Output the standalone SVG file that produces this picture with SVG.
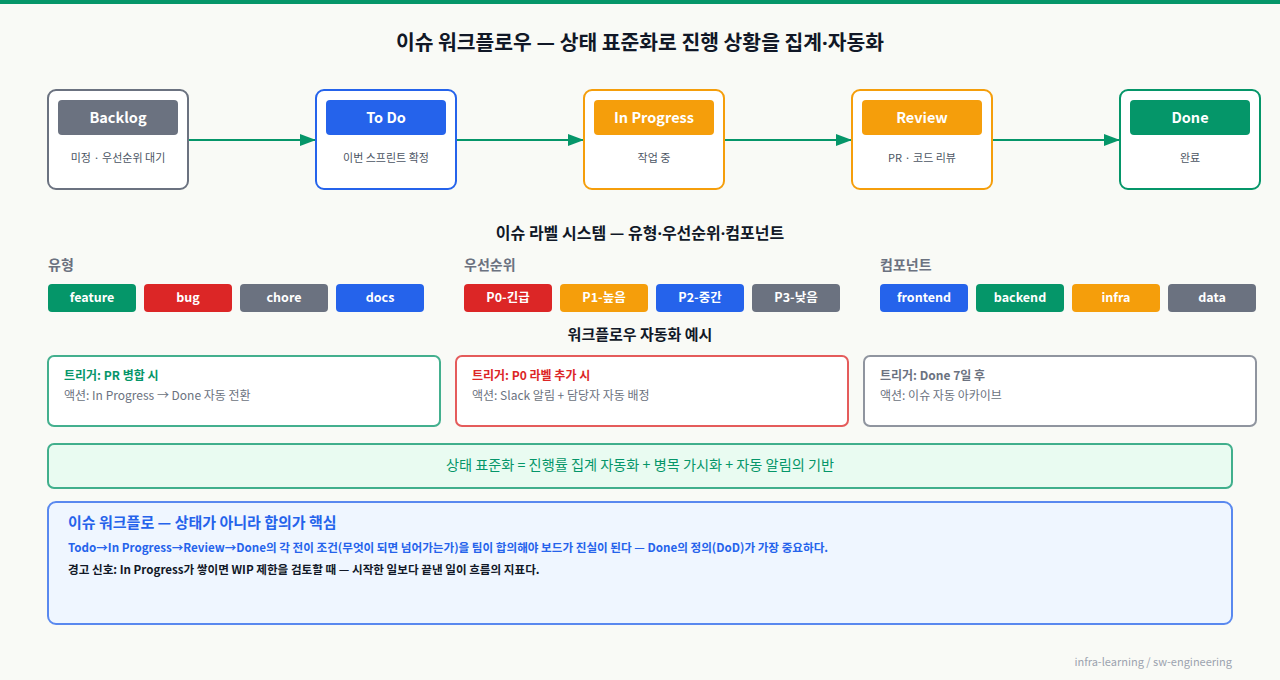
<svg xmlns="http://www.w3.org/2000/svg" width="1280" height="680" viewBox="0 0 1280 680">
<defs>
<marker id="arr" viewBox="0 0 16 12" refX="16" refY="6" markerWidth="16" markerHeight="12" markerUnits="userSpaceOnUse" orient="auto">
<path d="M0,0 L16,6 L0,12 Z" fill="#059669"/>
</marker>
</defs>
<style>
text{font-family:"Noto Sans CJK KR","Noto Sans",sans-serif}
.dot{font-family:"Noto Sans","DejaVu Sans",sans-serif}
.title{font-size:20.4px;font-weight:700;fill:#111827;text-anchor:middle}
.sec{font-size:15px;font-weight:700;fill:#111827;text-anchor:middle}
.sec16{font-size:16px;font-weight:700;fill:#111827;text-anchor:middle}
.box{fill:#ffffff;stroke-width:2}
.pilltxt{font-size:14.5px;font-weight:700;fill:#ffffff;text-anchor:middle}
.sub{font-size:11px;fill:#4b5563;text-anchor:middle}
.grp{font-size:14px;font-weight:700;fill:#6b7280}
.lbl{font-size:12.5px;font-weight:700;fill:#ffffff;text-anchor:middle}
.card{fill:#ffffff;stroke-width:2;stroke-opacity:0.75}
.ct{font-size:12px;font-weight:700}
.ca{font-size:12px;fill:#6b7280}
.conn{stroke:#059669;stroke-width:2;fill:none}
</style>
<rect x="0" y="0" width="1280" height="680" fill="#f9faf6"/>
<rect x="0" y="0" width="1280" height="4" fill="#059669"/>
<text class="title" x="640" y="50">이슈 워크플로우 — 상태 표준화로 진행 상황을 집계<tspan class="dot">·</tspan>자동화</text>

<g id="connectors">
<line class="conn" x1="189" y1="140" x2="316" y2="140" marker-end="url(#arr)"/>
<line class="conn" x1="457" y1="140" x2="584" y2="140" marker-end="url(#arr)"/>
<line class="conn" x1="725" y1="140" x2="852" y2="140" marker-end="url(#arr)"/>
<line class="conn" x1="993" y1="140" x2="1120" y2="140" marker-end="url(#arr)"/>
</g>

<g id="backlog">
<rect class="box" x="48" y="90" width="140" height="99" rx="8" stroke="#6b7280"/>
<rect x="58" y="100" width="120" height="35" rx="4" fill="#6b7280"/>
<text class="pilltxt" x="118" y="123">Backlog</text>
<text class="sub" x="118" y="162">미정 · 우선순위 대기</text>
</g>
<g id="todo">
<rect class="box" x="316" y="90" width="140" height="99" rx="8" stroke="#2563eb"/>
<rect x="326" y="100" width="120" height="35" rx="4" fill="#2563eb"/>
<text class="pilltxt" x="386" y="123">To Do</text>
<text class="sub" x="386" y="162">이번 스프린트 확정</text>
</g>
<g id="inprogress">
<rect class="box" x="584" y="90" width="140" height="99" rx="8" stroke="#f59e0b"/>
<rect x="594" y="100" width="120" height="35" rx="4" fill="#f59e0b"/>
<text class="pilltxt" x="654" y="123">In Progress</text>
<text class="sub" x="654" y="162">작업 중</text>
</g>
<g id="review">
<rect class="box" x="852" y="90" width="140" height="99" rx="8" stroke="#f59e0b"/>
<rect x="862" y="100" width="120" height="35" rx="4" fill="#f59e0b"/>
<text class="pilltxt" x="922" y="123">Review</text>
<text class="sub" x="922" y="162">PR · 코드 리뷰</text>
</g>
<g id="done">
<rect class="box" x="1120" y="90" width="140" height="99" rx="8" stroke="#059669"/>
<rect x="1130" y="100" width="120" height="35" rx="4" fill="#059669"/>
<text class="pilltxt" x="1190" y="123">Done</text>
<text class="sub" x="1190" y="162">완료</text>
</g>

<text class="sec16" x="640" y="239">이슈 라벨 시스템 — 유형<tspan class="dot">·</tspan>우선순위<tspan class="dot">·</tspan>컴포넌트</text>

<g id="labels-type">
<text class="grp" x="48" y="270">유형</text>
<rect x="48" y="284" width="88" height="28" rx="4" fill="#059669"/><text class="lbl" x="92" y="302">feature</text>
<rect x="144" y="284" width="88" height="28" rx="4" fill="#dc2626"/><text class="lbl" x="188" y="302">bug</text>
<rect x="240" y="284" width="88" height="28" rx="4" fill="#6b7280"/><text class="lbl" x="284" y="302">chore</text>
<rect x="336" y="284" width="88" height="28" rx="4" fill="#2563eb"/><text class="lbl" x="380" y="302">docs</text>
</g>
<g id="labels-priority">
<text class="grp" x="464" y="270">우선순위</text>
<rect x="464" y="284" width="88" height="28" rx="4" fill="#dc2626"/><text class="lbl" x="508" y="302">P0-긴급</text>
<rect x="560" y="284" width="88" height="28" rx="4" fill="#f59e0b"/><text class="lbl" x="604" y="302">P1-높음</text>
<rect x="656" y="284" width="88" height="28" rx="4" fill="#2563eb"/><text class="lbl" x="700" y="302">P2-중간</text>
<rect x="752" y="284" width="88" height="28" rx="4" fill="#6b7280"/><text class="lbl" x="796" y="302">P3-낮음</text>
</g>
<g id="labels-component">
<text class="grp" x="880" y="270">컴포넌트</text>
<rect x="880" y="284" width="88" height="28" rx="4" fill="#2563eb"/><text class="lbl" x="924" y="302">frontend</text>
<rect x="976" y="284" width="88" height="28" rx="4" fill="#059669"/><text class="lbl" x="1020" y="302">backend</text>
<rect x="1072" y="284" width="88" height="28" rx="4" fill="#f59e0b"/><text class="lbl" x="1116" y="302">infra</text>
<rect x="1168" y="284" width="88" height="28" rx="4" fill="#6b7280"/><text class="lbl" x="1212" y="302">data</text>
</g>

<text class="sec" x="640" y="340">워크플로우 자동화 예시</text>

<g id="auto-pr">
<rect class="card" x="48" y="356" width="392" height="70" rx="6" stroke="#059669"/>
<text class="ct" x="64" y="380" fill="#059669">트리거: PR 병합 시</text>
<text class="ca" x="64" y="400">액션: In Progress → Done 자동 전환</text>
</g>
<g id="auto-p0">
<rect class="card" x="456" y="356" width="392" height="70" rx="6" stroke="#dc2626"/>
<text class="ct" x="472" y="380" fill="#dc2626">트리거: P0 라벨 추가 시</text>
<text class="ca" x="472" y="400">액션: Slack 알림 + 담당자 자동 배정</text>
</g>
<g id="auto-archive">
<rect class="card" x="864" y="356" width="392" height="70" rx="6" stroke="#6b7280"/>
<text class="ct" x="880" y="380" fill="#6b7280">트리거: Done 7일 후</text>
<text class="ca" x="880" y="400">액션: 이슈 자동 아카이브</text>
</g>

<g id="banner">
<rect x="48" y="444" width="1184" height="44" rx="6" fill="#e9fbf1" stroke="#059669" stroke-opacity="0.75" stroke-width="2"/>
<text x="640" y="470" font-size="14.2" fill="#059669" text-anchor="middle">상태 표준화 = 진행률 집계 자동화 + 병목 가시화 + 자동 알림의 기반</text>
</g>

<g id="note">
<rect x="48" y="502" width="1184" height="122" rx="8" fill="#eff6ff" stroke="#2563eb" stroke-opacity="0.75" stroke-width="2"/>
<text x="68" y="528" font-size="15" font-weight="700" fill="#2563eb">이슈 워크플로 — 상태가 아니라 합의가 핵심</text>
<text x="68" y="552" font-size="11.6" font-weight="700" fill="#2563eb">Todo→In Progress→Review→Done의 각 전이 조건(무엇이 되면 넘어가는가)을 팀이 합의해야 보드가 진실이 된다 — Done의 정의(DoD)가 가장 중요하다.</text>
<text x="68" y="574" font-size="11.6" font-weight="700" fill="#111827">경고 신호: In Progress가 쌓이면 WIP 제한을 검토할 때 — 시작한 일보다 끝낸 일이 흐름의 지표다.</text>
</g>

<text x="1232" y="666" font-size="11" fill="#9ca3af" text-anchor="end">infra-learning / sw-engineering</text>
</svg>
